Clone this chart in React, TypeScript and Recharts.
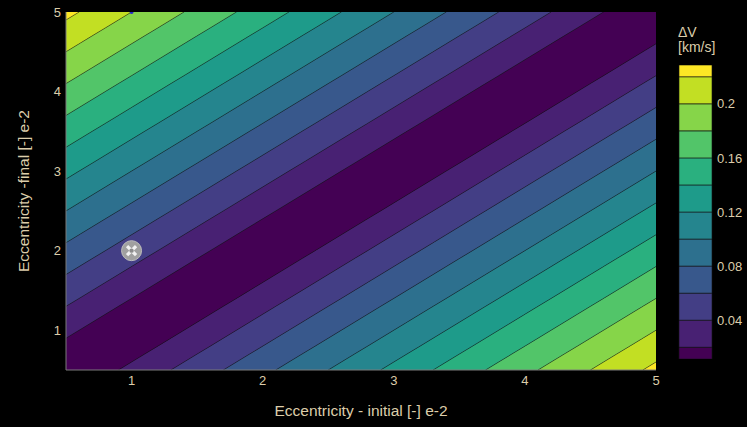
import React from 'react';
import {
  ComposedChart, Area, Line, Scatter, XAxis, YAxis, BarChart, Bar,
} from 'recharts';

// Grid of initial eccentricity values (e-2) used to trace the contour bands
const eInitial = [
  0.5, 0.6, 0.7, 0.8, 0.9, 1.0, 1.1, 1.2, 1.3, 1.4, 1.5, 1.6, 1.7, 1.8, 1.9, 2.0,
  2.1, 2.2, 2.3, 2.4, 2.5, 2.6, 2.7, 2.8, 2.9, 3.0, 3.1, 3.2, 3.3, 3.4, 3.5, 3.6,
  3.7, 3.8, 3.9, 4.0, 4.1, 4.2, 4.3, 4.4, 4.5, 4.6, 4.7, 4.8, 4.9, 5.0,
];
// Contour levels of ΔV [km/s]
const contourLevels = [0.02, 0.04, 0.06, 0.08, 0.1, 0.12, 0.14, 0.16, 0.18, 0.2, 0.22];
// |e_final - e_initial| (e-2) at which each contour level is reached
const levelOffsets = [0.4, 0.8, 1.2, 1.6, 2.0, 2.4, 2.8, 3.2, 3.6, 4.0, 4.4];
// Colour of each ΔV band (lowest to highest)
const bandColors = [
  '#440154', '#482173', '#433e85', '#38588c', '#2d708e', '#25858e',
  '#1e9b8a', '#2ab07f', '#52c569', '#86d549', '#c2df23', '#fde725',
];
// Colour bar extent [km/s]
const colorbarMin = 0.0113;
const colorbarMax = 0.2287;
const colorbarTicks = [0.04, 0.08, 0.12, 0.16, 0.2];
const axisTicks = [1, 2, 3, 4, 5];
const eMin = 0.5;
const eMax = 5;
// Highlighted transfer point
const markerPoints = [{ ei: 1, ef: 2 }];
const edgePoints = [{ ei: 1, ef: 5 }];

const TEXT = '#dccdaa';
const FONT = '"Liberation Sans", Arial, sans-serif';

// band edges in (e_f - e_i)
const edges = [-100, ...levelOffsets.slice().reverse().map((v) => -v), ...levelOffsets, 100];
const regions = edges.slice(0, -1).map((lo, k) => {
  const hi = edges[k + 1];
  const mid = Math.abs((lo + hi) / 2);
  const colorIdx = levelOffsets.filter((o) => o < mid).length;
  return { lo, hi, color: bandColors[colorIdx] };
});
const lineOffsets = [...levelOffsets.map((v) => -v), ...levelOffsets];

const clamp = (v: number) => Math.max(eMin, Math.min(eMax, v));
const eps = 1e-9;

const rows = eInitial.map((x) => {
  const row: Record<string, any> = { ei: x };
  regions.forEach((r, k) => {
    row[`r${k}`] = [clamp(x + r.lo), clamp(x + r.hi)];
  });
  lineOffsets.forEach((c, j) => {
    const v = x + c;
    row[`l${j}`] = v >= eMin - eps && v <= eMax + eps ? Math.round(v * 1000) / 1000 : null;
  });
  return row;
});

const cbEdges = [colorbarMin, ...contourLevels, colorbarMax];
const cbRow: Record<string, any> = { name: 'cb', base: colorbarMin };
cbEdges.slice(0, -1).forEach((lo, k) => {
  cbRow[`c${k}`] = cbEdges[k + 1] - lo;
});

const MarkerShape = (props: any) => {
  const { cx, cy } = props;
  if (cx == null || cy == null) return null;
  const d = 4.5;
  return (
    <g>
      <circle cx={cx} cy={cy} r={10} fill="#a0a0a0" stroke="#bdbdbd" strokeWidth={1} />
      <line x1={cx - d} y1={cy - d} x2={cx + d} y2={cy + d} stroke="#f2f2f2" strokeWidth={3.2} />
      <line x1={cx - d} y1={cy + d} x2={cx + d} y2={cy - d} stroke="#f2f2f2" strokeWidth={3.2} />
      <circle cx={cx} cy={cy} r={2.2} fill="#8c8c8c" />
    </g>
  );
};

const EdgeShape = (props: any) => {
  const { cx, cy } = props;
  if (cx == null || cy == null) return null;
  return <circle cx={cx} cy={cy} r={2} fill="#2626c8" />;
};

export default function App() {
  const tickStyle = { fill: TEXT, fontSize: 13, fontFamily: FONT };
  return (
    <div style={{ position: 'absolute', left: 0, top: 0, width: 747, height: 427, background: '#000', overflow: 'hidden' }}>
      <div style={{ position: 'absolute', left: 0, top: 0 }}>
        <ComposedChart
          width={747}
          height={427}
          data={rows}
          margin={{ top: 12, right: 91, bottom: 0, left: 0 }}
        >
          <XAxis
            dataKey="ei"
            type="number"
            domain={[eMin, eMax]}
            ticks={axisTicks}
            allowDataOverflow
            height={57}
            tickLine={false}
            tickSize={0}
            tickMargin={6}
            axisLine={{ stroke: '#7a7a7a' }}
            tick={tickStyle}
            label={{ value: 'Eccentricity - initial [-] e-2', position: 'insideBottom', offset: 11, fill: TEXT, fontSize: 15.5, fontFamily: FONT }}
          />
          <XAxis xAxisId="top" dataKey="ei" type="number" orientation="top" domain={[eMin, eMax]} height={0} tick={false} tickLine={false} axisLine={{ stroke: '#7a7a7a' }} />
          <YAxis
            type="number"
            domain={[eMin, eMax]}
            ticks={axisTicks}
            allowDataOverflow
            width={66}
            tickLine={false}
            tickSize={0}
            tickMargin={5}
            axisLine={{ stroke: '#7a7a7a' }}
            tick={tickStyle}
            label={{ value: 'Eccentricity -final [-] e-2', angle: -90, position: 'insideLeft', offset: 23, fill: TEXT, fontSize: 15.5, fontFamily: FONT, style: { textAnchor: 'middle' } }}
          />
          {regions.map((r, k) => (
            <Area
              key={`r${k}`}
              dataKey={`r${k}`}
              type="linear"
              stroke="none"
              fill={r.color}
              fillOpacity={1}
              dot={false}
              activeDot={false}
              isAnimationActive={false}
            />
          ))}
          {lineOffsets.map((c, j) => (
            <Line
              key={`l${j}`}
              dataKey={`l${j}`}
              type="linear"
              stroke="rgba(20,20,20,0.5)"
              strokeWidth={0.9}
              dot={false}
              activeDot={false}
              connectNulls={false}
              isAnimationActive={false}
            />
          ))}
          <Scatter data={edgePoints} dataKey="ef" shape={<EdgeShape />} isAnimationActive={false} />
          <Scatter data={markerPoints} dataKey="ef" shape={<MarkerShape />} isAnimationActive={false} />
        </ComposedChart>
      </div>
      <div style={{ position: 'absolute', left: 0, top: 0, pointerEvents: 'none' }}>
        <BarChart
          width={747}
          height={427}
          data={[cbRow]}
          margin={{ top: 65, right: 0, bottom: 68, left: 679 }}
          barCategoryGap={0}
        >
          <XAxis dataKey="name" hide />
          <YAxis
            orientation="right"
            type="number"
            domain={[colorbarMin, colorbarMax]}
            ticks={colorbarTicks}
            allowDataOverflow
            width={35}
            axisLine={false}
            tickLine={false}
            tickSize={0}
            tickMargin={5}
            tick={tickStyle}
          />
          <Bar dataKey="base" stackId="cb" fill="transparent" isAnimationActive={false} />
          {cbEdges.slice(0, -1).map((_, k) => (
            <Bar
              key={`c${k}`}
              dataKey={`c${k}`}
              stackId="cb"
              fill={bandColors[k]}
              stroke="rgba(20,20,20,0.6)"
              strokeWidth={1}
              isAnimationActive={false}
            />
          ))}
        </BarChart>
      </div>
      <div style={{ position: 'absolute', left: 678, top: 25, color: TEXT, fontFamily: FONT, fontSize: 14, lineHeight: '15px' }}>
        <div>ΔV</div>
        <div>[km/s]</div>
      </div>
    </div>
  );
}
